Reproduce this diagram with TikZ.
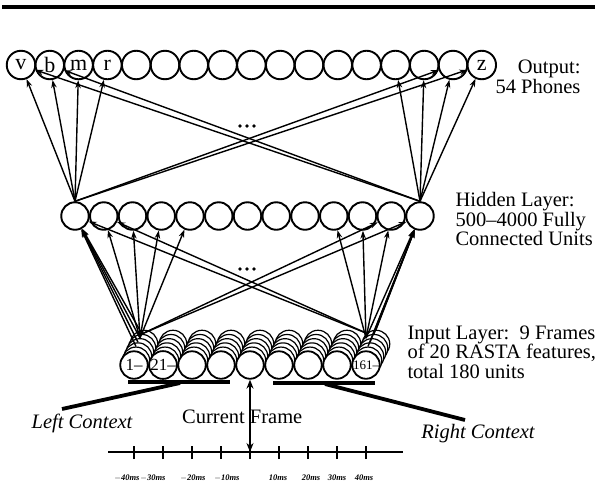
\documentclass[tikz,border=0pt]{standalone}
\usepackage{fontspec}
\setmainfont{Liberation Serif}
\usetikzlibrary{arrows.meta}
\begin{document}
\begin{tikzpicture}[x=1pt,y=-1pt,
  outn/.style={circle,draw,line width=1.9pt,minimum size=28.5pt,inner sep=0pt,fill=white,font=\fontsize{22}{22}\selectfont},
  hidn/.style={circle,draw,line width=1.9pt,minimum size=27.5pt,inner sep=0pt,fill=white},
  inpn/.style={circle,draw,line width=1.8pt,minimum size=27.5pt,inner sep=0pt,fill=white,font=\fontsize{17}{17}\selectfont},
  stkn/.style={circle,draw,line width=1.2pt,minimum size=27.5pt,inner sep=0pt,fill=white},
  conn/.style={line width=1.4pt,-{Stealth[length=8pt,width=5.5pt]}},
  thickbar/.style={line width=3.8pt},
  lbl/.style={font=\fontsize{20.5}{19.5}\selectfont},
  tlbl/.style={font=\fontsize{8.5}{8.5}\selectfont\bfseries\itshape,inner sep=0pt},
]
\useasboundingbox (0,0) rectangle (595,483);
% top rule
\coordinate (r1) at (2,7);
\coordinate (r2) at (595,7);
\draw[line width=3.5pt] (r1) -- (r2);

% output layer
\foreach \i/\t in {1/v,2/b,3/m,4/r,5/{},6/{},7/{},8/{},9/{},10/{},11/{},12/{},13/{},14/{},15/{},16/{},17/z}
  \node[outn] (o\i) at ({21+28.8*(\i-1)},65) {\t};

% hidden layer
\foreach \i in {1,...,13}
  \node[hidn] (h\i) at ({75+28.75*(\i-1)},216) {};

% input stacks
\foreach \k in {5,4,3,2,1}
  \foreach \i in {1,...,9}
    \node[stkn] (s\i-\k) at ({134+29*(\i-1)+2*\k},{365-4.2*\k}) {};
% input front circles
\foreach \i/\t in {1/{1--},2/{21--},3/{},4/{},5/{},6/{},7/{},8/{},9/{\fontsize{13}{13}\selectfont 161--}}
  \node[inpn] (i\i) at ({134+29*(\i-1)},365) {\t};

% hidden -> output
\foreach \j in {1,...,4} \draw[conn] (h1.north) -- (o\j);
\foreach \j in {16,17} \draw[conn] (h1.north) -- (o\j);
\foreach \j in {14,...,17} \draw[conn] (h13.north) -- (o\j);
\foreach \j in {1,2} \draw[conn] (h13.north) -- (o\j);

% input -> hidden (frame 1)
\foreach \j in {1,...,5} \draw[conn] (s1-3.north) -- (h\j);
\foreach \k in {1,2,4} \draw[conn] (s1-\k.north) -- (h1);
\foreach \j in {12,13} \draw[conn] (s1-4.north) -- (h\j);
% input -> hidden (frame 9)
\foreach \j in {10,...,13} \draw[conn] ([xshift=-6pt]s9-3.north) -- (h\j);
\foreach \k in {1,2,4,5} \draw[conn] (s9-\k.north) -- (h13);
\foreach \j in {1,2} \draw[conn] ([xshift=-6pt]s9-4.north) -- (h\j);

% dots
\fill (240,126) circle (1.9) (247,126) circle (1.9) (254,126) circle (1.9);
\fill (240,269) circle (1.9) (247,269) circle (1.9) (254,269) circle (1.9);

% layer labels
\node[lbl,align=right,anchor=east] (outlbl) at (584,77) {Output:\\54 Phones};
\node[lbl,align=left,anchor=west] (hidlbl) at (452,219) {Hidden Layer:\\500--4000 Fully\\Connected Units};
\node[lbl,align=left,anchor=west] (inplbl) at (404,352) {Input Layer:\ \ 9 Frames\\of 20 RASTA features,\\total 180 units};

% context bars
\coordinate (lb1) at (128,382);
\coordinate (lb2) at (230,382);
\coordinate (lbp) at (180,383);
\coordinate (lbe) at (62,409);
\draw[thickbar] (lb1) -- (lb2);
\draw[thickbar] (lbp) -- (lbe);
\coordinate (rb1) at (273,383);
\coordinate (rb2) at (375,383);
\coordinate (rbp) at (325,384);
\coordinate (rbe) at (465,420);
\draw[thickbar] (rb1) -- (rb2);
\draw[thickbar] (rbp) -- (rbe);
\node[font=\fontsize{20.5}{20}\selectfont\itshape] (lctx) at (82,423) {Left Context};
\node[font=\fontsize{20.5}{20}\selectfont\itshape] (rctx) at (478,434) {Right Context};
\node[font=\fontsize{20.5}{20}\selectfont,anchor=west,inner sep=0pt] (cur) at (182,417) {Current Frame};

% time axis
\coordinate (axL) at (108,452);
\coordinate (axR) at (403,452);
\draw[line width=2.6pt] (axL) -- (axR);
\foreach \i in {1,...,9} {
  \coordinate (t\i) at ({134+29*(\i-1)},452);
  \draw[line width=2.6pt] ([yshift=-7pt]t\i) -- ([yshift=6pt]t\i);
}
\foreach \x/\t [count=\n] in {127/{$-$40ms},153/{$-$30ms},193/{$-$20ms},227/{$-$10ms},278/{10ms},311/{20ms},337/{30ms},364/{40ms}}
  \node[tlbl] (tl\n) at (\x,478) {\t};

% current frame arrow
\draw[line width=2.6pt,{Stealth[length=9pt,width=7pt]}-{Stealth[length=9pt,width=7pt]}] (i5.south) -- (t5);
\end{tikzpicture}
\end{document}
